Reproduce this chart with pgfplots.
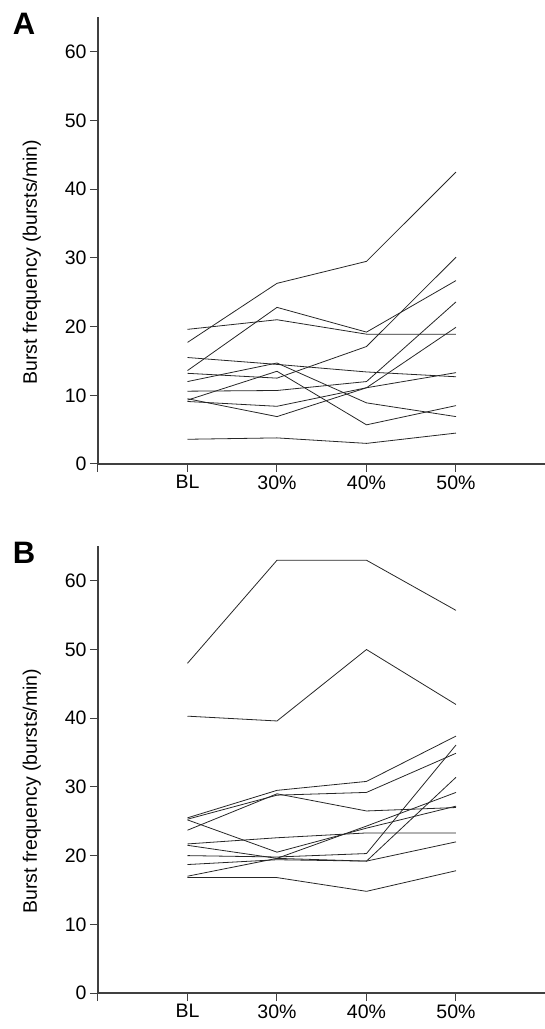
\documentclass[border=0pt]{standalone}
\usepackage{fontspec}
\setmainfont{Liberation Sans}
\usepackage{pgfplots}
\pgfplotsset{compat=1.18}

\pgfplotsset{panel/.style={
  scale only axis, width=447.5pt, height=446.5pt,
  xmin=0, xmax=5, ymin=0, ymax=65,
  axis x line*=bottom, axis y line*=left,
  axis line style={line width=1.1pt, black!75, -},
  xtick={0,1,2,3,4}, xticklabels={,BL,30\%,40\%,50\%},
  ytick={0,10,...,60},
  tick align=outside, major tick length=8pt,
  tick style={line width=1pt, black!75},
  every tick label/.append style={font=\fontsize{19.5}{22}\selectfont, text=black},
  /pgf/number format/assume math mode=true,
  clip=false,
  ylabel={Burst frequency (bursts/min)},
  ylabel style={at={(rel axis cs:-0.1476,0.452)}, anchor=center, font=\fontsize{19.5}{22}\selectfont},
},
dl/.style={black!85, line width=0.8pt, mark=none}}

\begin{document}
\begin{tikzpicture}[x=1pt,y=1pt]
\useasboundingbox (0,0) rectangle (545,1029);
\begin{axis}[panel, at={(98pt,565pt)}, anchor=south west]
\addplot[dl] coordinates {(1,17.7) (2,26.3) (3,29.5) (4,42.5)};
\addplot[dl] coordinates {(1,19.6) (2,21.0) (3,18.9) (4,18.9)};
\addplot[dl] coordinates {(1,13.6) (2,22.8) (3,19.2) (4,26.7)};
\addplot[dl] coordinates {(1,15.5) (2,14.5) (3,13.4) (4,12.7)};
\addplot[dl] coordinates {(1,13.2) (2,12.5) (3,17.1) (4,30.1)};
\addplot[dl] coordinates {(1,12.0) (2,14.7) (3,8.9) (4,6.9)};
\addplot[dl] coordinates {(1,9.3) (2,13.5) (3,5.7) (4,8.5)};
\addplot[dl] coordinates {(1,10.6) (2,10.7) (3,12.0) (4,23.6)};
\addplot[dl] coordinates {(1,9.5) (2,6.9) (3,11.1) (4,19.9)};
\addplot[dl] coordinates {(1,9.1) (2,8.4) (3,11.1) (4,13.3)};
\addplot[dl] coordinates {(1,3.6) (2,3.8) (3,3.0) (4,4.5)};
\node[font=\bfseries\fontsize{31}{31}\selectfont] at (rel axis cs:-0.1654,0.9866) {A};
\end{axis}
\begin{axis}[panel, at={(98pt,36pt)}, anchor=south west]
\addplot[dl] coordinates {(1,48.0) (2,63.0) (3,63.0) (4,55.7)};
\addplot[dl] coordinates {(1,40.3) (2,39.6) (3,50.0) (4,42.0)};
\addplot[dl] coordinates {(1,25.5) (2,29.5) (3,30.8) (4,37.4)};
\addplot[dl] coordinates {(1,25.3) (2,28.8) (3,29.2) (4,34.9)};
\addplot[dl] coordinates {(1,23.7) (2,29.0) (3,26.5) (4,27.0)};
\addplot[dl] coordinates {(1,25.2) (2,20.5) (3,24.0) (4,27.2)};
\addplot[dl] coordinates {(1,21.7) (2,22.6) (3,23.3) (4,23.3)};
\addplot[dl] coordinates {(1,21.5) (2,19.6) (3,24.3) (4,29.2)};
\addplot[dl] coordinates {(1,20.0) (2,19.8) (3,20.3) (4,36.1)};
\addplot[dl] coordinates {(1,18.7) (2,19.4) (3,19.2) (4,31.4)};
\addplot[dl] coordinates {(1,17.0) (2,19.6) (3,19.2) (4,22.0)};
\addplot[dl] coordinates {(1,16.8) (2,16.8) (3,14.8) (4,17.8)};
\node[font=\bfseries\fontsize{31}{31}\selectfont] at (rel axis cs:-0.1654,0.9866) {B};
\end{axis}
\end{tikzpicture}
\end{document}
